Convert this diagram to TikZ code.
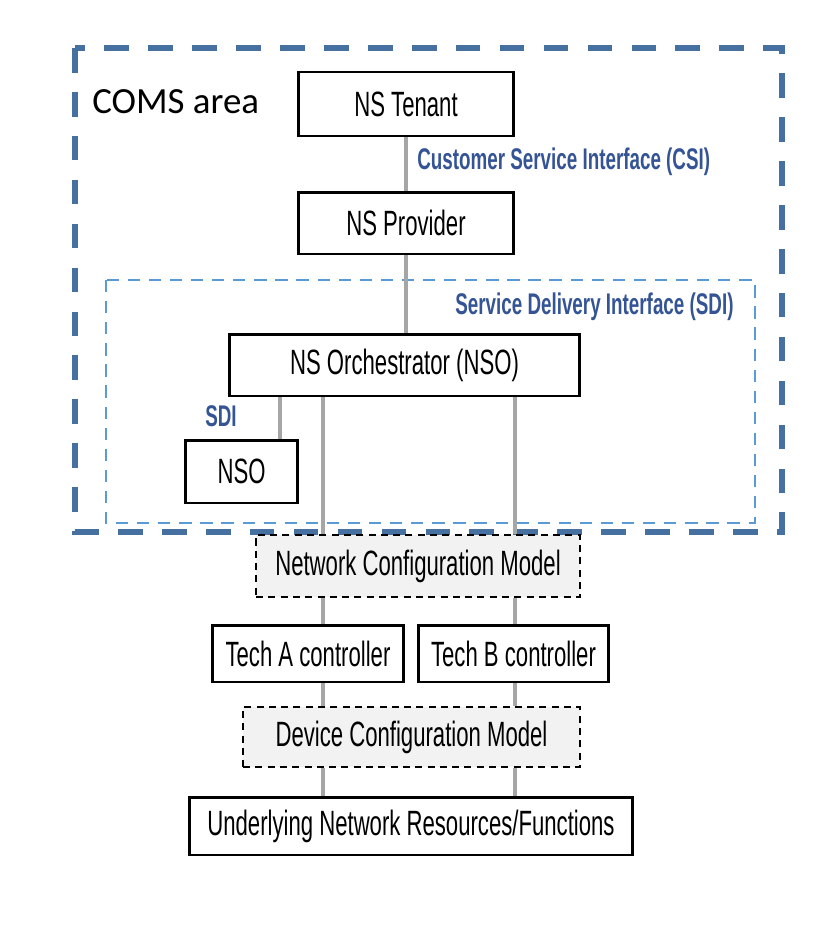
\documentclass[tikz,border=0pt]{standalone}
\usepackage{fontspec}
\setmainfont{Liberation Sans}[FakeStretch=0.63]
\newfontfamily\comsfont{Carlito}
\definecolor{comsblue}{RGB}{70,112,160}
\definecolor{sdiblue}{RGB}{91,155,213}
\definecolor{labelblue}{RGB}{52,84,150}
\definecolor{linkgray}{RGB}{166,166,166}
\definecolor{modelfill}{RGB}{242,242,242}
\begin{document}
\begin{tikzpicture}[x=0.02cm,y=-0.02cm,
    box/.style={draw, line width=1.7pt, inner sep=0pt, fill=white, font=\fontsize{20}{24}\selectfont},
    model/.style={box, dash pattern=on 4pt off 3pt, line width=1.2pt, fill=modelfill},
    link/.style={draw=linkgray, line width=2pt},
    iface/.style={text=labelblue, font=\fontsize{17}{20}\selectfont\bfseries, anchor=west, inner sep=0pt}]
      \useasboundingbox (0,0) rectangle (838,926);

      % Draw the two areas
      \draw[comsblue, line width=3pt, dash pattern=on 14pt off 11pt] (75,48) rectangle (782,532);
      \draw[sdiblue, line width=1.6pt, dash pattern=on 7pt off 5pt] (106,280) rectangle (755,523);
      \node[anchor=west, inner sep=0pt, font=\comsfont\fontsize{21}{25}\selectfont] at (92,102) (coms) {COMS area};

      % Draw the coordinates of the columns
      \coordinate (colA) at (323,0);
      \coordinate (colB) at (515,0);
      \coordinate (colN) at (280,0);

      % Draw the boxes
      \node[box, minimum width=4.32cm, minimum height=1.28cm] at (406,104) (tenant) {NS Tenant};
      \node[box, minimum width=4.32cm, minimum height=1.24cm] at (406,223) (provider) {NS Provider};
      \node[box, minimum width=7.02cm, minimum height=1.24cm] at (404.5,365) (orch) {NS Orchestrator (NSO)};
      \node[box, minimum width=2.26cm, minimum height=1.26cm] at (241.5,471.5) (nso) {NSO};
      \node[model, minimum width=6.48cm, minimum height=1.24cm] at (418,566) (ncm) {Network Configuration Model};
      \node[box, minimum width=3.84cm, minimum height=1.14cm] at (308,653.5) (techA) {Tech A controller};
      \node[box, minimum width=3.82cm, minimum height=1.14cm] at (513.5,653.5) (techB) {Tech B controller};
      \node[model, minimum width=6.74cm, minimum height=1.20cm] at (411.5,737) (dcm) {Device Configuration Model};
      \node[box, minimum width=8.88cm, minimum height=1.16cm] at (411,826) (under) {Underlying Network Resources/Functions};

      % Draw the interface labels
      \node[iface] at (417,162) (csi) {Customer Service Interface (CSI)};
      \node[iface] at (455,307) (sdi) {Service Delivery Interface (SDI)};
      \node[iface] at (205,416) (sdi2) {SDI};

      % Draw the links
      \draw[link] (tenant.south) -- (provider.north);
      \draw[link] (provider.south) -- (provider.south |- orch.north);
      \draw[link] (orch.south -| colN) -- (nso.north -| colN);
      \foreach \col in {colA,colB} {
        \draw[link] (orch.south -| \col) -- (ncm.north -| \col);
        \draw[link] (ncm.south -| \col) -- (techA.north -| \col);
        \draw[link] (techA.south -| \col) -- (dcm.north -| \col);
        \draw[link] (dcm.south -| \col) -- (under.north -| \col);
      }
    \end{tikzpicture}
\end{document}
